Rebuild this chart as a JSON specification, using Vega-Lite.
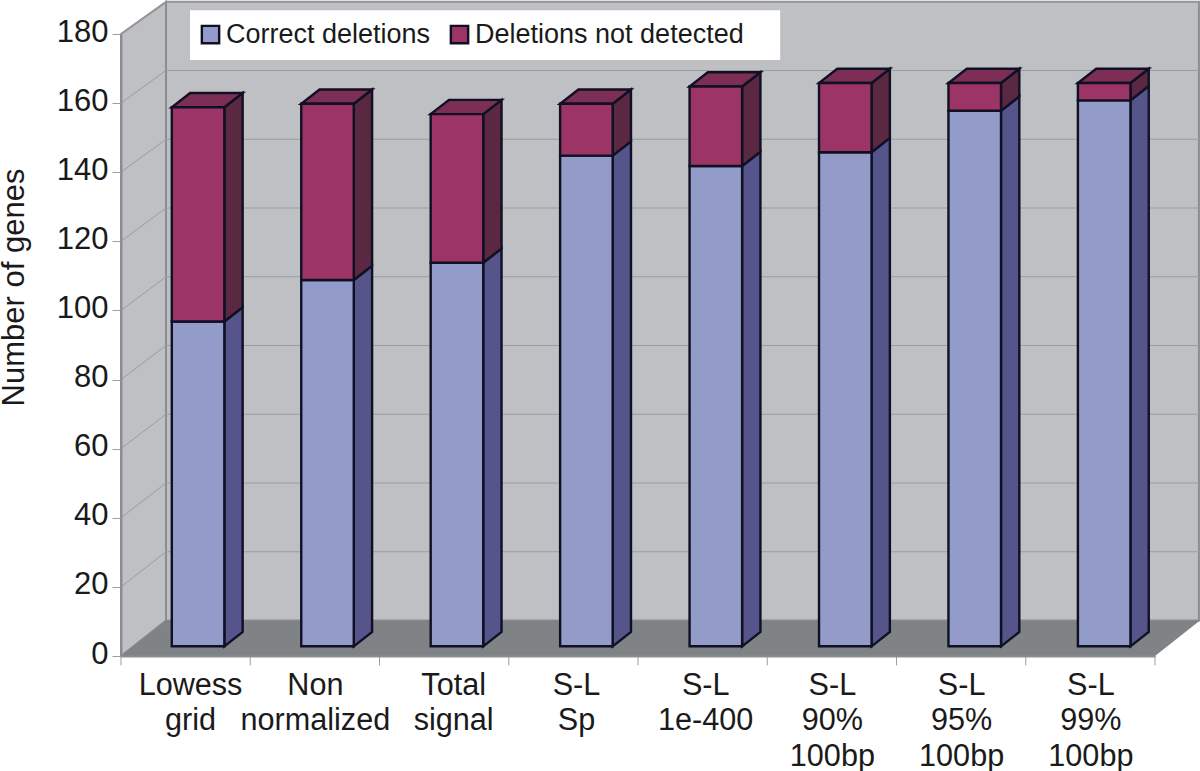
{
"$schema":"https://vega.github.io/schema/vega-lite/v6.json",
"autosize":"none","width":1034,"height":622,
"padding":{"left":121,"top":34,"right":45,"bottom":115},
"background":"white",
"config":{"view":{"stroke":null},"font":"Liberation Sans"},
"datasets":{
"bars":[
{"method":"Lowess grid","series":"Correct deletions","count":94},{"method":"Lowess grid","series":"Deletions not detected","count":62},
{"method":"Non normalized","series":"Correct deletions","count":106},{"method":"Non normalized","series":"Deletions not detected","count":51},
{"method":"Total signal","series":"Correct deletions","count":111},{"method":"Total signal","series":"Deletions not detected","count":43},
{"method":"S-L Sp","series":"Correct deletions","count":142},{"method":"S-L Sp","series":"Deletions not detected","count":15},
{"method":"S-L 1e-400","series":"Correct deletions","count":139},{"method":"S-L 1e-400","series":"Deletions not detected","count":23},
{"method":"S-L 90% 100bp","series":"Correct deletions","count":143},{"method":"S-L 90% 100bp","series":"Deletions not detected","count":20},
{"method":"S-L 95% 100bp","series":"Correct deletions","count":155},{"method":"S-L 95% 100bp","series":"Deletions not detected","count":8},
{"method":"S-L 99% 100bp","series":"Correct deletions","count":158},{"method":"S-L 99% 100bp","series":"Deletions not detected","count":5}
],
"depth":[{"t":0},{"t":1}],
"grid":[{"v":20},{"v":40},{"v":60},{"v":80},{"v":100},{"v":120},{"v":140},{"v":160},{"v":180}],
"cuts":[{"c":0},{"c":1},{"c":2},{"c":3},{"c":4},{"c":5},{"c":6},{"c":7},{"c":8}]
},
"data":{"name":"bars"},
"transform":[
{"calculate":"indexof(['Lowess grid','Non normalized','Total signal','S-L Sp','S-L 1e-400','S-L 90% 100bp','S-L 95% 100bp','S-L 99% 100bp'],datum.method)","as":"slot"},
{"stack":"count","groupby":["method"],"sort":[{"field":"series","order":"ascending"}],"as":["c0","c1"]},
{"calculate":"datum.slot*1.0015+0.393","as":"left"},
{"calculate":"datum.left+0.4065","as":"right"},
{"calculate":"datum.c0+2.8","as":"low"},
{"calculate":"datum.c1+2.8","as":"high"}
],
"resolve":{"scale":{"fill":"independent"}},
"layer":[
{"data":{"name":"depth"},
 "transform":[{"calculate":"0.348+datum.t*7.992","as":"x"},{"calculate":"10.27","as":"lo"},{"calculate":"189.3","as":"hi"}],
 "mark":{"type":"area","fill":"#bfc0c3","stroke":"#8b8e90","strokeWidth":2},
 "encoding":{
  "x":{"field":"x","type":"quantitative","scale":{"domain":[0,8],"nice":false,"zero":false},
   "axis":{"title":null,"values":[0.534,1.5,2.57,3.52,4.52,5.5,6.5,7.5],"ticks":false,"grid":false,"domain":true,"domainColor":"#8b8e90","domainWidth":2,
    "labelFontSize":30.6,"labelColor":"#1a1a1a","labelPadding":14,"labelLineHeight":35.5,"labelOverlap":false,"labelFlush":false,"zindex":1,
    "labelExpr":"split(['Lowess grid','Non normalized','Total signal','S-L Sp','S-L 1e-400','S-L 90% 100bp','S-L 95% 100bp','S-L 99% 100bp'][indexof([0.534,1.5,2.57,3.52,4.52,5.5,6.5,7.5],datum.value)],' ')"}},
  "y":{"field":"lo","type":"quantitative","stack":null,"scale":{"domain":[0,180],"nice":false,"zero":false},
   "axis":{"title":"Number of genes","titleFontSize":31,"titleFontWeight":"normal","titleColor":"#1a1a1a","titleX":-91,"titleY":253,
    "values":[0,20,40,60,80,100,120,140,160,180],"grid":false,"domainColor":"#8b8e90","domainWidth":2,"tickColor":"#9c9ea0","tickSize":9,"tickWidth":1,
    "labelFontSize":31,"labelColor":"#1a1a1a","labelPadding":4,"labelOffset":-2,"zindex":1}},
  "y2":{"field":"hi"}}},
{"data":{"name":"depth"},
 "transform":[{"calculate":"datum.t*0.348","as":"x"},{"calculate":"datum.t*10.27","as":"lo"},{"calculate":"180+datum.t*9.3","as":"hi"}],
 "mark":{"type":"area","fill":"#bfc0c3","stroke":"#8b8e90","strokeWidth":2},
 "encoding":{"x":{"field":"x","type":"quantitative","scale":{"domain":[0,8],"nice":false,"zero":false}},
  "y":{"field":"lo","type":"quantitative","stack":null,"scale":{"domain":[0,180],"nice":false,"zero":false}},"y2":{"field":"hi"}}},
{"data":{"name":"grid"},
 "transform":[{"calculate":"[0,1,2]","as":"k"},{"flatten":["k"]},
  {"calculate":"datum.k==0?0:(datum.k==1?0.348:8.34)","as":"x"},
  {"calculate":"datum.k==0?datum.v:10.27+0.9948*datum.v","as":"y"}],
 "mark":{"type":"line","stroke":"#9a9c9e","strokeWidth":1},
 "encoding":{"x":{"field":"x","type":"quantitative","sort":null,"scale":{"domain":[0,8],"nice":false,"zero":false}},
  "y":{"field":"y","type":"quantitative","scale":{"domain":[0,180],"nice":false,"zero":false}},
  "detail":{"field":"v"},"order":{"field":"k"}}},
{"data":{"name":"depth"},
 "transform":[{"calculate":"datum.t*0.348","as":"x"},{"calculate":"8+datum.t*0.348","as":"x2"},{"calculate":"datum.t*10.27","as":"y"}],
 "mark":{"type":"area","orient":"horizontal","fill":"#7f8385"},
 "encoding":{"y":{"field":"y","type":"quantitative","scale":{"domain":[0,180],"nice":false,"zero":false}},
  "x":{"field":"x","type":"quantitative","stack":null,"scale":{"domain":[0,8],"nice":false,"zero":false}},"x2":{"field":"x2"}}},
{"data":{"values":[{"box":"legend"}]},
 "mark":{"type":"rect","fill":"white"},
 "encoding":{"x":{"datum":0.534,"type":"quantitative","scale":{"domain":[0,8],"nice":false,"zero":false}},"x2":{"datum":5.1},
  "y":{"datum":172.5,"type":"quantitative","scale":{"domain":[0,180],"nice":false,"zero":false}},"y2":{"datum":186.9}}},
{"data":{"name":"cuts"},
 "mark":{"type":"rule","stroke":"#9c9ea0","strokeWidth":1},
 "encoding":{"x":{"field":"c","type":"quantitative","scale":{"domain":[0,8],"nice":false,"zero":false}},
  "y":{"datum":0,"type":"quantitative","scale":{"domain":[0,180],"nice":false,"zero":false}},"y2":{"datum":-2.7}}},
{"transform":[{"calculate":"[0,1]","as":"t"},{"flatten":["t"]},
  {"calculate":"datum.right+datum.t*0.1417","as":"sx"},{"calculate":"datum.low+datum.t*4.135","as":"sl"},{"calculate":"datum.high+datum.t*4.135","as":"sh"}],
 "mark":{"type":"area","stroke":"#101025","strokeWidth":2.4},
 "encoding":{"x":{"field":"sx","type":"quantitative","scale":{"domain":[0,8],"nice":false,"zero":false}},
  "y":{"field":"sl","type":"quantitative","stack":null,"scale":{"domain":[0,180],"nice":false,"zero":false}},"y2":{"field":"sh"},
  "detail":{"field":"method"},
  "fill":{"field":"series","type":"nominal","legend":null,"scale":{"domain":["Correct deletions","Deletions not detected"],"range":["#55558c","#5a2840"]}}}},
{"transform":[{"filter":"datum.series=='Deletions not detected'"},{"calculate":"[0,1]","as":"t"},{"flatten":["t"]},
  {"calculate":"datum.left+datum.t*0.1417","as":"tl"},{"calculate":"datum.right+datum.t*0.1417","as":"tr"},{"calculate":"datum.high+datum.t*4.135","as":"ty"}],
 "mark":{"type":"area","orient":"horizontal","fill":"#7c2e55","stroke":"#101025","strokeWidth":2.4},
 "encoding":{"y":{"field":"ty","type":"quantitative","scale":{"domain":[0,180],"nice":false,"zero":false}},
  "x":{"field":"tl","type":"quantitative","stack":null,"scale":{"domain":[0,8],"nice":false,"zero":false}},"x2":{"field":"tr"},
  "detail":{"field":"method"}}},
{"mark":{"type":"rect","stroke":"#101025","strokeWidth":2.4},
 "encoding":{"x":{"field":"left","type":"quantitative","scale":{"domain":[0,8],"nice":false,"zero":false}},"x2":{"field":"right"},
  "y":{"field":"low","type":"quantitative","scale":{"domain":[0,180],"nice":false,"zero":false}},"y2":{"field":"high"},
  "fill":{"field":"series","type":"nominal","scale":{"domain":["Correct deletions","Deletions not detected"],"range":["#939bc9","#9c3465"]},
   "legend":{"title":null,"orient":"none","legendX":76,"legendY":-13,"direction":"horizontal","columns":2,"padding":0,"symbolType":"square","symbolSize":300,"symbolStrokeColor":"#101025","symbolStrokeWidth":2.4,"symbolOpacity":1,"labelFontSize":27,"labelColor":"#1a1a1a","labelOffset":2,"columnPadding":15,"labelLimit":400}}}}
]
}
